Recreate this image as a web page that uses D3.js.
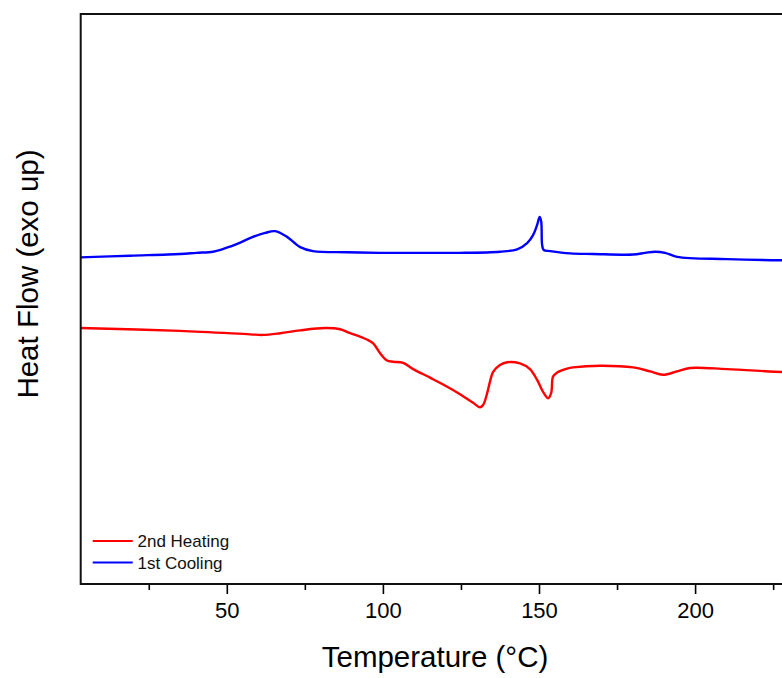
<!DOCTYPE html>
<html>
<head>
<meta charset="utf-8">
<script src="https://cdn.jsdelivr.net/npm/d3@7"></script>
<style>
  html, body { margin: 0; padding: 0; background: #fff; }
  svg { display: block; font-family: "Liberation Sans", Arial, sans-serif; }
</style>
</head>
<body>
<svg id="chart" width="782" height="678"></svg>
<script>
// DSC traces: temperature (°C) vs heat flow (arbitrary units, exo up)
const coolingTemp = [3.0, 19.0, 35.0, 40.2, 45.6, 48.5, 51.1, 54.3, 58.4, 62.3, 65.5, 69.3, 73.5, 77.6, 88.5, 99.1, 111.9, 124.7, 137.5, 143.0, 146.2, 148.1, 149.4, 150.2, 150.7, 151.0, 151.5, 153.6, 160.0, 167.3, 180.1, 184.0, 187.2, 190.4, 194.2, 210.2, 227.9, 230.4];
const coolingFlow = [5.73, 5.76, 5.79, 5.81, 5.83, 5.87, 5.92, 5.99, 6.09, 6.16, 6.19, 6.09, 5.91, 5.84, 5.82, 5.81, 5.81, 5.81, 5.83, 5.87, 5.98, 6.12, 6.30, 6.44, 6.36, 5.95, 5.86, 5.84, 5.80, 5.79, 5.78, 5.81, 5.83, 5.81, 5.74, 5.70, 5.68, 5.68];

const heatingTemp = [3.0, 35.0, 57.5, 61.6, 67.1, 73.5, 81.5, 86.3, 89.5, 92.7, 94.9, 96.9, 99.1, 101.3, 103.3, 106.5, 109.7, 115.1, 119.3, 124.7, 128.9, 131.1, 132.1, 133.4, 134.3, 135.3, 137.5, 139.8, 143.9, 147.1, 149.4, 151.3, 152.9, 153.9, 154.5, 155.8, 159.0, 160.9, 169.6, 180.2, 185.6, 189.7, 194.2, 198.4, 210.2, 227.9, 230.4];
const heatingFlow = [4.49, 4.44, 4.38, 4.37, 4.40, 4.45, 4.49, 4.47, 4.40, 4.34, 4.29, 4.22, 4.05, 3.92, 3.90, 3.88, 3.77, 3.62, 3.50, 3.33, 3.18, 3.10, 3.14, 3.35, 3.55, 3.72, 3.84, 3.89, 3.87, 3.77, 3.58, 3.37, 3.26, 3.35, 3.64, 3.71, 3.78, 3.80, 3.83, 3.80, 3.73, 3.67, 3.73, 3.79, 3.77, 3.72, 3.72];

const seriesNames = ["2nd Heating", "1st Cooling"];
const seriesColors = ["#ff0000", "#0000ff"];
const majorTicks = [50, 100, 150, 200];
const minorTicks = [25, 75, 125, 175, 225];

const svg = d3.select("#chart");
const plot = { left: 80.7, right: 790, top: 14, bottom: 584 };

const x = d3.scaleLinear().domain([3.2, 230.4]).range([plot.left, plot.right]);
const y = d3.scaleLinear().domain([0, 10]).range([plot.bottom, plot.top]);

const line = d3.line()
  .x(d => x(d[0]))
  .y(d => y(d[1]))
  .curve(d3.curveCatmullRom.alpha(0.5));

const heating = d3.zip(heatingTemp, heatingFlow);
const cooling = d3.zip(coolingTemp, coolingFlow);

svg.append("defs").append("clipPath").attr("id", "plotClip")
  .append("rect")
  .attr("x", plot.left).attr("y", plot.top)
  .attr("width", plot.right - plot.left).attr("height", plot.bottom - plot.top);

const traces = svg.append("g").attr("clip-path", "url(#plotClip)");
traces.append("path").datum(cooling)
  .attr("d", line).attr("fill", "none")
  .attr("stroke", seriesColors[1]).attr("stroke-width", 2.4)
  .attr("stroke-linejoin", "round");
traces.append("path").datum(heating)
  .attr("d", line).attr("fill", "none")
  .attr("stroke", seriesColors[0]).attr("stroke-width", 2.4)
  .attr("stroke-linejoin", "round");

// bottom axis: labelled major ticks plus unlabelled minor ticks, pointing outward
const xAxis = d3.axisBottom(x).tickValues(majorTicks).tickSize(10).tickPadding(8).tickFormat(d3.format("d"));
const gx = svg.append("g").attr("transform", `translate(0,${plot.bottom})`).call(xAxis);
gx.select(".domain").remove();
gx.selectAll(".tick line").attr("stroke", "#000").attr("stroke-width", 1.6);
gx.selectAll(".tick text").attr("font-size", 22).attr("fill", "#000")
  .attr("font-family", "'Liberation Sans', Arial, sans-serif");

const xMinor = d3.axisBottom(x).tickValues(minorTicks).tickSize(6).tickFormat("");
const gxm = svg.append("g").attr("transform", `translate(0,${plot.bottom})`).call(xMinor);
gxm.select(".domain").remove();
gxm.selectAll(".tick line").attr("stroke", "#000").attr("stroke-width", 1.6);

// frame
svg.append("rect")
  .attr("x", plot.left).attr("y", plot.top)
  .attr("width", plot.right - plot.left).attr("height", plot.bottom - plot.top)
  .attr("fill", "none").attr("stroke", "#111").attr("stroke-width", 2);

// axis titles
svg.append("text")
  .attr("x", 435).attr("y", 667)
  .attr("text-anchor", "middle")
  .attr("font-size", 29.5).attr("fill", "#000")
  .text("Temperature (°C)");

svg.append("text")
  .attr("transform", "translate(38,274) rotate(-90)")
  .attr("text-anchor", "middle")
  .attr("font-size", 29.5).attr("fill", "#000")
  .text("Heat Flow (exo up)");

// legend
const legend = svg.append("g");
seriesNames.forEach((name, i) => {
  const ly = 541 + i * 21.5;
  legend.append("line")
    .attr("x1", 92.7).attr("x2", 132.7).attr("y1", ly).attr("y2", ly)
    .attr("stroke", seriesColors[i]).attr("stroke-width", 2);
  legend.append("text")
    .attr("x", 137.5).attr("y", ly + 6)
    .attr("font-size", 17).attr("fill", "#111")
    .text(name);
});
</script>
</body>
</html>
